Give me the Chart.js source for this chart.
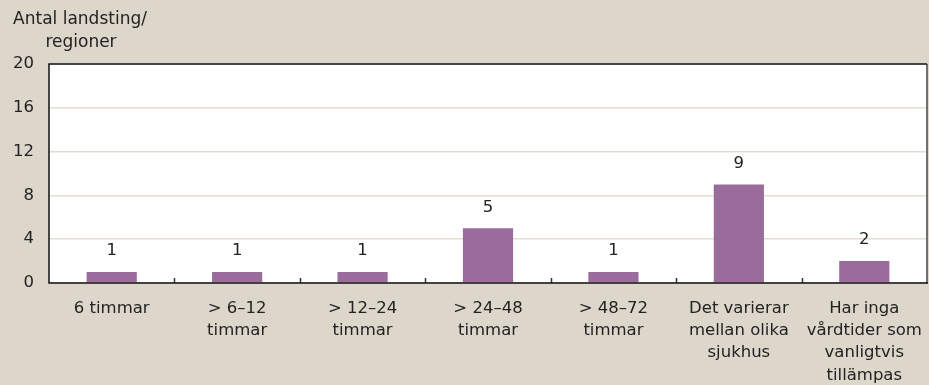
<!DOCTYPE html>
<html>
<head>
<meta charset="utf-8">
<script src="https://cdn.jsdelivr.net/npm/chart.js@4"></script>
<style>
  html, body { margin: 0; padding: 0; background: #ddd7cb; }
  #wrap { width: 929px; height: 385px; position: relative; }
</style>
</head>
<body>
<div id="wrap"><canvas id="c"></canvas></div>
<script>
// Vårdtider: antal landsting/regioner per kategori
const categories = [
  '6 timmar',
  ['> 6–12', 'timmar'],
  ['> 12–24', 'timmar'],
  ['> 24–48', 'timmar'],
  ['> 48–72', 'timmar'],
  ['Det varierar', 'mellan olika', 'sjukhus'],
  ['Har inga', 'vårdtider som', 'vanligtvis', 'tillämpas']
];
const counts = [1, 1, 1, 5, 1, 9, 2];
const yTicks = [0, 4, 8, 12, 16, 20];
const yTitle = ['Antal landsting/', 'regioner'];

const FONT = "'DejaVu Sans', sans-serif";
const TEXT = '#222222';

// white plot area on the beige page
const plotBg = {
  id: 'plotBg',
  beforeDraw(chart) {
    const { ctx, chartArea: a } = chart;
    ctx.save();
    ctx.fillStyle = '#ffffff';
    ctx.fillRect(a.left, a.top, a.right - a.left, a.bottom - a.top);
    ctx.restore();
  }
};

// value labels above each bar
const valueLabels = {
  id: 'valueLabels',
  afterDatasetsDraw(chart) {
    const ctx = chart.ctx;
    const meta = chart.getDatasetMeta(0);
    ctx.save();
    ctx.font = '16.5px ' + FONT;
    ctx.fillStyle = TEXT;
    ctx.textAlign = 'center';
    ctx.textBaseline = 'middle';
    meta.data.forEach((bar, i) => {
      ctx.fillText(String(counts[i]), bar.x, bar.y - 21);
    });
    ctx.restore();
  }
};

// plot frame, inward category separators and the axis title
const frame = {
  id: 'frame',
  afterDraw(chart) {
    const { ctx, chartArea: a } = chart;
    const xs = chart.scales.x;
    ctx.save();
    // separators between categories
    ctx.strokeStyle = '#333333';
    ctx.lineWidth = 1.5;
    for (let i = 1; i < categories.length; i++) {
      const x = Math.round((xs.getPixelForValue(i - 1) + xs.getPixelForValue(i)) / 2) + 0.5;
      ctx.beginPath();
      ctx.moveTo(x, a.bottom);
      ctx.lineTo(x, a.bottom - 5);
      ctx.stroke();
    }
    // right edge
    ctx.strokeStyle = '#707070';
    ctx.lineWidth = 2;
    ctx.beginPath();
    ctx.moveTo(a.right, a.top);
    ctx.lineTo(a.right, a.bottom);
    ctx.stroke();
    // left, top, bottom edges
    ctx.strokeStyle = '#111111';
    ctx.lineWidth = 1.5;
    ctx.beginPath();
    ctx.moveTo(a.right, a.top);
    ctx.lineTo(a.left, a.top);
    ctx.lineTo(a.left, a.bottom);
    ctx.lineTo(a.right + 1, a.bottom);
    ctx.stroke();
    // axis title
    ctx.font = '17px ' + FONT;
    ctx.fillStyle = TEXT;
    ctx.textAlign = 'center';
    ctx.textBaseline = 'middle';
    ctx.fillText(yTitle[0], 80, 20);
    ctx.fillText(yTitle[1], 81, 43);
    ctx.restore();
  }
};

new Chart(document.getElementById('c'), {
  type: 'bar',
  data: {
    labels: categories,
    datasets: [{
      data: counts,
      backgroundColor: '#996c9b',
      borderWidth: 0,
      barPercentage: 0.4,
      categoryPercentage: 1
    }]
  },
  options: {
    responsive: true,
    maintainAspectRatio: false,
    animation: false,
    layout: { padding: { top: 64, right: 2, left: 0, bottom: 0 } },
    plugins: {
      legend: { display: false },
      tooltip: { enabled: false }
    },
    scales: {
      x: {
        grid: { display: false },
        border: { display: false },
        ticks: {
          color: TEXT,
          font: { family: FONT, size: 16.5, lineHeight: 1.36 },
          padding: 6,
          maxRotation: 0,
          autoSkip: false
        },
        afterFit(scale) {
          scale.height = 102;
          scale.paddingLeft = 0;
          scale.paddingRight = 0;
        }
      },
      y: {
        min: 0,
        max: 20,
        afterBuildTicks(scale) { scale.ticks = yTicks.map(v => ({ value: v })); },
        grid: { color: '#e3ddd1', lineWidth: 1.5, drawTicks: false },
        border: { display: false },
        ticks: {
          color: TEXT,
          font: { family: FONT, size: 16.5 },
          padding: 15
        },
        afterFit(scale) { scale.width = 49; }
      }
    }
  },
  plugins: [plotBg, valueLabels, frame]
});
</script>
</body>
</html>
